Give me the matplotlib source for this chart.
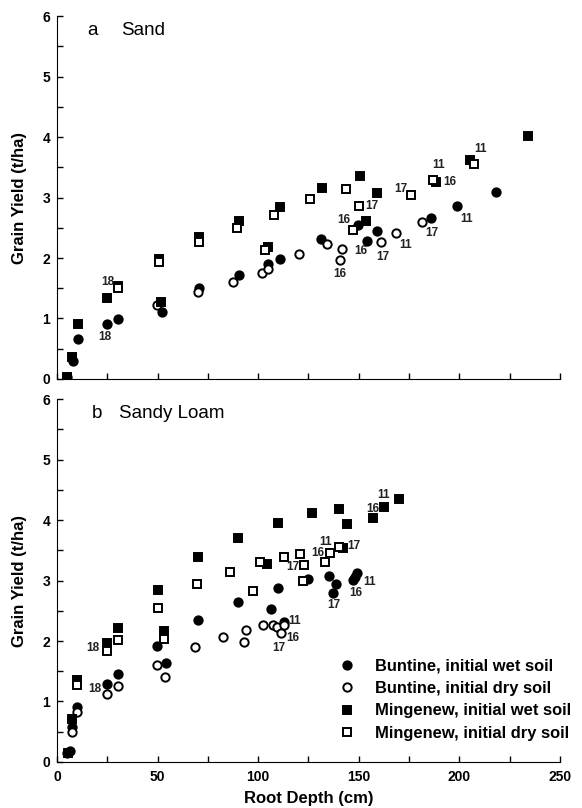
import numpy as np
import matplotlib
matplotlib.use("Agg")
from matplotlib import pyplot as plt
from matplotlib.ticker import MultipleLocator

plt.rcParams['font.family'] = ['Liberation Sans', 'DejaVu Sans']

# ---- a Sand ----
sand_bw_x = [4.8, 7.8, 10.4, 25, 30.5, 52.0, 70.4, 90.5, 105, 110.8, 131.2, 149.4, 153.9, 158.9, 185.9, 198.8, 218.2]
sand_bw_y = [0.04, 0.30, 0.66, 0.91, 0.99, 1.10, 1.50, 1.72, 1.90, 1.98, 2.31, 2.54, 2.28, 2.45, 2.66, 2.86, 3.09]
sand_bd_x = [49.5, 69.9, 87.6, 101.7, 104.7, 120.4, 134, 141.8, 140.7, 160.9, 168.3, 181.6]
sand_bd_y = [1.22, 1.43, 1.61, 1.76, 1.82, 2.06, 2.24, 2.15, 1.97, 2.27, 2.42, 2.59]
sand_mw_x = [4.8, 7.6, 10.4, 25, 30.5, 50.8, 51.5, 70.6, 90.6, 104.7, 110.8, 131.5, 150.6, 153.6, 158.9, 188.4, 205.3, 234.2]
sand_mw_y = [0.03, 0.37, 0.91, 1.34, 1.53, 1.98, 1.28, 2.34, 2.61, 2.19, 2.85, 3.15, 3.36, 2.62, 3.07, 3.26, 3.62, 4.01]
sand_md_x = [30.5, 50.8, 70.6, 89.6, 103.4, 108, 125.7, 143.5, 147, 150.3, 176.2, 187, 207.3]
sand_md_y = [1.50, 1.93, 2.26, 2.49, 2.13, 2.71, 2.97, 3.14, 2.46, 2.86, 3.04, 3.29, 3.55]
sand_lab = ["18", "18", "16", "17", "16", "16", "17", "11", "17", "17", "11", "16", "11", "11"]
sand_lab_x = [23.9, 25.2, 140.7, 156.4, 142.6, 150.8, 162.2, 173.2, 171, 186.1, 189.5, 195.3, 203.4, 210.7]
sand_lab_y = [0.69, 1.60, 1.74, 2.86, 2.63, 2.12, 2.01, 2.21, 3.14, 2.41, 3.54, 3.25, 2.64, 3.80]

# ---- b Sandy Loam ----
loam_bw_x = [5.2, 6.5, 7.3, 10.1, 24.7, 30.1, 49.5, 54.2, 70.2, 90.1, 106.3, 110, 113, 124.9, 135.3, 138.5, 137, 147.3, 148.1, 149.3]
loam_bw_y = [0.15, 0.18, 0.57, 0.91, 1.29, 1.45, 1.91, 1.63, 2.35, 2.64, 2.53, 2.87, 2.31, 3.02, 3.08, 2.95, 2.79, 3.01, 3.06, 3.13]
loam_bd_x = [7.3, 10.1, 24.7, 30.1, 49.5, 53.7, 68.6, 82.3, 92.9, 93.8, 102.2, 107.5, 109.2, 111.2, 112.8]
loam_bd_y = [0.50, 0.83, 1.13, 1.26, 1.60, 1.40, 1.90, 2.06, 1.99, 2.19, 2.26, 2.27, 2.23, 2.13, 2.27]
loam_mw_x = [5.5, 7.6, 10.1, 24.7, 30.1, 50, 53.2, 70.2, 90.1, 104.5, 110.1, 126.8, 140.3, 142, 144.3, 157.2, 162.6, 170.1]
loam_mw_y = [0.14, 0.71, 1.36, 1.97, 2.22, 2.85, 2.17, 3.39, 3.71, 3.27, 3.96, 4.11, 4.18, 3.54, 3.93, 4.04, 4.21, 4.35]
loam_md_x = [10.1, 24.7, 30.1, 50, 53.2, 69.7, 86, 97.6, 100.9, 112.6, 120.8, 122.6, 122.4, 133.2, 135.8, 140.3]
loam_md_y = [1.27, 1.83, 2.02, 2.54, 2.03, 2.94, 3.14, 2.83, 3.31, 3.39, 3.44, 3.25, 3.00, 3.30, 3.45, 3.55]
loam_lab = ["18", "18", "17", "16", "11", "17", "16", "11", "17", "17", "16", "11", "16", "11"]
loam_lab_x = [18.9, 18.0, 110.5, 117.4, 118.3, 117.4, 129.4, 133.7, 147.3, 137.8, 148.5, 155.2, 156.9, 162.2]
loam_lab_y = [1.21, 1.88, 1.88, 2.05, 2.33, 3.23, 3.45, 3.63, 3.57, 2.59, 2.80, 2.98, 4.19, 4.41]

names = ["Buntine, initial wet soil", "Buntine, initial dry soil",
         "Mingenew, initial wet soil", "Mingenew, initial dry soil"]


def panel(ax, series, lab, lab_x, lab_y, letter, title, letter_x, title_x, bottom):
    styles = [("o", "black", 6.0), ("o", "white", 6.0), ("s", "black", 5.5), ("s", "white", 5.5)]
    for (xs, ys), (m, fc, ms), nm in zip(series, styles, names):
        ax.plot(xs, ys, ls="none", marker=m, ms=ms, mfc=fc, mec="black", mew=1.4, label=nm)
    for t, x, y in zip(lab, lab_x, lab_y):
        ax.text(x, y, t, ha="center", va="center", fontsize=8.5, fontweight="bold", color="#222222")
    ax.text(letter_x, 0.961, letter, transform=ax.transAxes, fontsize=13.5, va="center")
    ax.text(title_x, 0.961, title, transform=ax.transAxes, fontsize=13.5, va="center")
    ax.set_xlim(0, 250)
    ax.set_ylim(0, 6)
    ax.xaxis.set_major_locator(MultipleLocator(50))
    ax.xaxis.set_minor_locator(MultipleLocator(25))
    ax.yaxis.set_major_locator(MultipleLocator(1))
    ax.yaxis.set_minor_locator(MultipleLocator(0.5))
    ax.tick_params(which="both", direction="in", length=4, width=1, labelsize=10)
    ax.tick_params(axis="x", pad=6)
    ax.tick_params(axis="y", pad=5)
    for lbl in ax.get_yticklabels() + ax.get_xticklabels():
        lbl.set_fontweight("bold")
    ax.spines["top"].set_visible(False)
    ax.spines["right"].set_visible(False)
    ax.set_ylabel("Grain Yield (t/ha)", fontsize=12, fontweight="bold", labelpad=11)
    if not bottom:
        ax.tick_params(axis="x", labelbottom=False)


fig = plt.figure(figsize=(5.82, 8.08), dpi=100)
ax1 = fig.add_axes([0.098, 0.531, 0.864, 0.449])
ax2 = fig.add_axes([0.098, 0.057, 0.864, 0.449])

panel(ax1, [(sand_bw_x, sand_bw_y), (sand_bd_x, sand_bd_y), (sand_mw_x, sand_mw_y), (sand_md_x, sand_md_y)],
      sand_lab, sand_lab_x, sand_lab_y, "a", "Sand", 0.06, 0.127, False)
panel(ax2, [(loam_bw_x, loam_bw_y), (loam_bd_x, loam_bd_y), (loam_mw_x, loam_mw_y), (loam_md_x, loam_md_y)],
      loam_lab, loam_lab_x, loam_lab_y, "b", "Sandy Loam", 0.07, 0.123, True)
ax2.set_xlabel("Root Depth (cm)", fontsize=12, fontweight="bold", labelpad=5)
for lbl in ax2.get_xticklabels():
    lbl.set_fontweight("bold")

leg = ax2.legend(loc="lower left", bbox_to_anchor=(0.561, 0.058), frameon=False,
                 handlelength=1.0, handletextpad=1.2, labelspacing=0.45, borderpad=0, borderaxespad=0,
                 prop={"weight": "bold", "size": 11.9})

fig.savefig("out.png", dpi=100)
